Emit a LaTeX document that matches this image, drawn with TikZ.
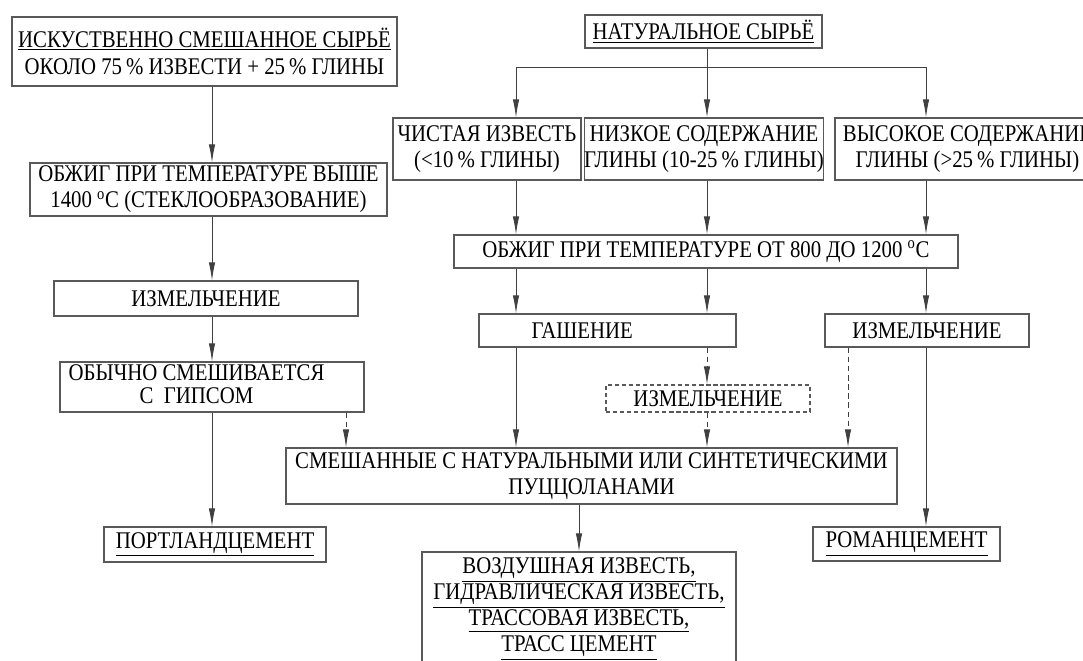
\documentclass[tikz,border=0pt]{standalone}
\usepackage{fontspec}
\setmainfont{Liberation Serif}[FakeStretch=0.87]
\usetikzlibrary{arrows.meta}

\begin{document}
\begin{tikzpicture}
		[x=0.025cm,y=-0.025cm,
		every node/.style={shape=rectangle, draw=black!65, line width=0.8pt, inner sep=0pt, align=center, font=\fontsize{17}{17.5}\selectfont},
		bx/.style 2 args={minimum width=#1*0.025cm, minimum height=#2*0.025cm},
		arr/.style={draw=black!75, line width=0.6pt, -{Latex[length=4.5mm,width=1.6mm]}},
		dsh/.style={arr, dash pattern=on 4pt off 2.5pt}]
		\useasboundingbox (0,0) rectangle (1083,661);
		\clip (0,0) rectangle (1083,661);
		% left column
		\node[bx={385}{69}] (A) at (204.5,51.5) {\underline{ИСКУСТВЕННО СМЕШАННОЕ СЫРЬЁ}\\[2pt] ОКОЛО 75\,\% ИЗВЕСТИ + 25\,\% ГЛИНЫ};
		\node[bx={357}{53}] (B) at (208.5,189.5) {ОБЖИГ ПРИ ТЕМПЕРАТУРЕ ВЫШЕ\\[1pt] 1400 \textsuperscript{o}C (СТЕКЛООБРАЗОВАНИЕ)};
		\node[bx={304}{35}] (C) at (206,298.5) {ИЗМЕЛЬЧЕНИЕ};
		\node[bx={304}{50}] (D) at (212,387) {\begin{tabular}{@{}c@{}}ОБЫЧНО СМЕШИВАЕТСЯ\\[-1pt] С~~ГИПСОМ\end{tabular}\hspace*{22pt}};
		\node[bx={222}{35}] (E) at (215,544.5) {\underline{ПОРТЛАНДЦЕМЕНТ}};
		% right part
		\node[bx={237}{33}] (F) at (703.5,31.5) {\underline{НАТУРАЛЬНОЕ СЫРЬЁ}};
		\node[bx={188}{62}] (G) at (487,149) {ЧИСТАЯ ИЗВЕСТЬ\\[1pt] (<10\,\% ГЛИНЫ)};
		\node[bx={238}{62}] (H) at (704,149) {НИЗКОЕ СОДЕРЖАНИЕ\\[1pt] ГЛИНЫ (10-25\,\% ГЛИНЫ)};
		\node[bx={265}{62}] (I) at (967.5,149) {ВЫСОКОЕ СОДЕРЖАНИЕ\\[1pt] ГЛИНЫ (>25\,\% ГЛИНЫ)};
		\node[bx={504}{33}] (J) at (706,251.5) {ОБЖИГ ПРИ ТЕМПЕРАТУРЕ ОТ 800 ДО 1200 \textsuperscript{o}C};
		\node[bx={257}{33}] (K) at (607.5,330.5) {ГАШЕНИЕ\hspace*{36pt}};
		\node[bx={204}{33}] (L) at (927,330.5) {ИЗМЕЛЬЧЕНИЕ};
		\node[bx={204}{27}, dash pattern=on 3pt off 2pt] (M) at (708,398.5) {ИЗМЕЛЬЧЕНИЕ};
		\node[bx={611}{56}] (N) at (591.5,476) {СМЕШАННЫЕ С НАТУРАЛЬНЫМИ ИЛИ СИНТЕТИЧЕСКИМИ\\[1pt] ПУЦЦОЛАНАМИ};
		\node[bx={187}{34}] (O) at (906.5,544) {\underline{РОМАНЦЕМЕНТ}};
		\node[bx={314}{114}] (P) at (579,609) {\underline{ВОЗДУШНАЯ ИЗВЕСТЬ,}\\[1pt] \underline{ГИДРАВЛИЧЕСКАЯ ИЗВЕСТЬ,}\\[1pt] \underline{ТРАССОВАЯ ИЗВЕСТЬ,}\\[1pt] \underline{ТРАСС ЦЕМЕНТ}};
		% columns of the connectors
		\coordinate (cA) at (212,0);
		\coordinate (cB) at (346,0);
		\coordinate (cC) at (516,0);
		\coordinate (cD) at (707,0);
		\coordinate (cE) at (848,0);
		\coordinate (cF) at (926,0);
		\coordinate (cG) at (579,0);
		\coordinate (br) at (707,67);
		\draw[draw=black!75, line width=0.6pt] (F.south -| cD) -- (br);
		\draw[arr] (br) -| (G.north -| cC);
		\draw[arr] (br) -- (H.north -| cD);
		\draw[arr] (br) -| (I.north -| cF);
		\foreach \from/\to/\c in {A/B/cA,B/C/cA,C/D/cA,D/E/cA,G/J/cC,H/J/cD,I/J/cF,J/K/cC,J/K/cD,J/L/cF,K/N/cC,L/O/cF,N/P/cG}
		\draw[arr] (\from.south -| \c) -- (\to.north -| \c);
		\foreach \from/\to/\c in {D/N/cB,K/M/cD,M/N/cD,L/N/cE}
		\draw[dsh] (\from.south -| \c) -- (\to.north -| \c);
	\end{tikzpicture}
\end{document}
